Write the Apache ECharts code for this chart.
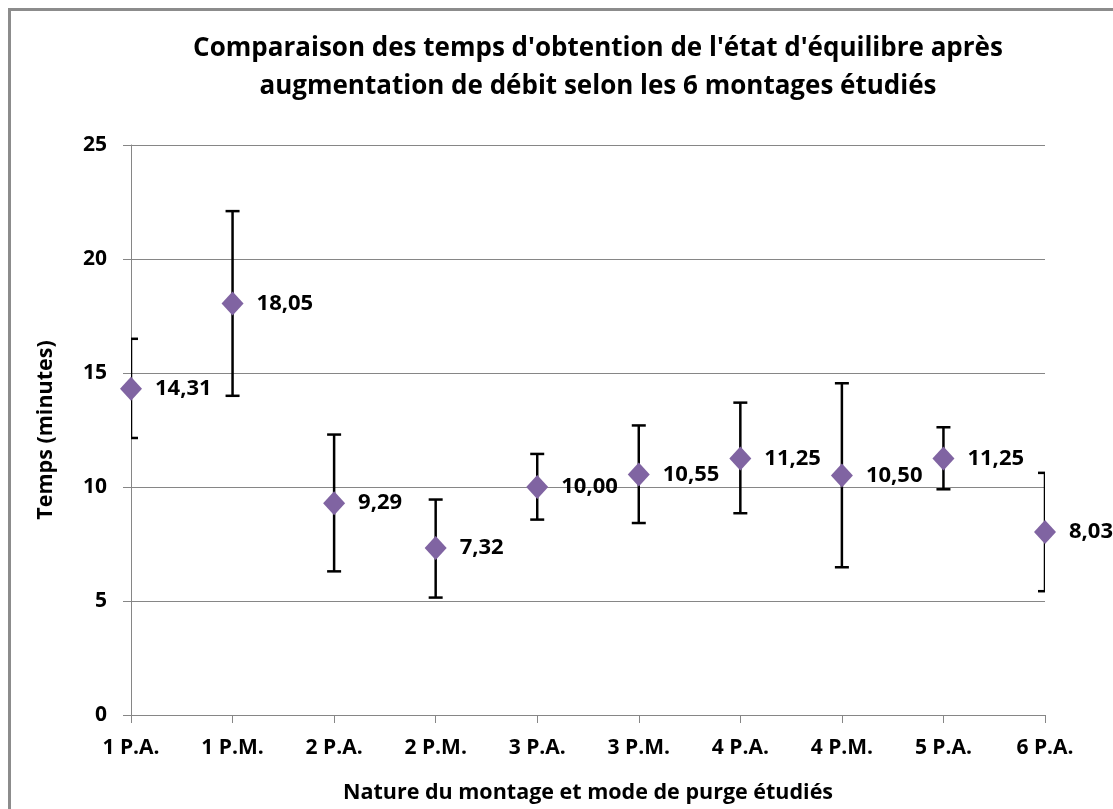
<!DOCTYPE html>
<html>
<head>
<meta charset="utf-8">
<script src="https://cdn.jsdelivr.net/npm/echarts@6/dist/echarts.min.js"></script>
<style>
  html, body { margin: 0; padding: 0; background: #fff; }
  #chart { width: 1113px; height: 809px; }
  .frame { position: absolute; left: 8px; top: 8px; width: 1200px; height: 900px; border-left: 3px solid #8c8c8c; border-top: 3px solid #8c8c8c; pointer-events: none; }
</style>
</head>
<body>
<div id="chart"></div>
<div class="frame"></div>
<script>
// montages étudiés
const categories = ['1 P.A.', '1 P.M.', '2 P.A.', '2 P.M.', '3 P.A.', '3 P.M.', '4 P.A.', '4 P.M.', '5 P.A.', '6 P.A.']
// temps moyen (minutes)
const means = [14.31, 18.05, 9.29, 7.32, 10.00, 10.55, 11.25, 10.50, 11.25, 8.03]
// bornes des barres d'erreur
const upper = [16.5, 22.1, 12.3, 9.45, 11.45, 12.7, 13.7, 14.55, 12.62, 10.62]
const lower = [12.15, 14.0, 6.3, 5.15, 8.57, 8.42, 8.85, 6.48, 9.9, 5.43]
const yTicks = [0, 5, 10, 15, 20, 25]

const FONT = '"Open Sans"'

const chart = echarts.init(document.getElementById('chart'))

const errorData = categories.map((c, i) => [i, lower[i], upper[i]])

chart.setOption({
  animation: false,
  title: {
    text: "Comparaison des temps d'obtention de l'état d'équilibre après\naugmentation de débit selon les 6 montages étudiés",
    left: 593,
    textAlign: 'center',
    top: 25,
    textStyle: {
      fontFamily: FONT,
      fontWeight: 'bold',
      fontSize: 26,
      lineHeight: 38,
      color: '#000',
    },
  },
  grid: {
    left: 131,
    right: 68,
    top: 145,
    bottom: 90,
  },
  xAxis: {
    type: 'category',
    data: categories,
    boundaryGap: false,
    name: 'Nature du montage et mode de purge étudiés',
    nameLocation: 'middle',
    nameGap: 67,
    nameTextStyle: { fontFamily: FONT, fontWeight: 'bold', fontSize: 21.5, color: '#000' },
    axisLine: { lineStyle: { color: '#868686', width: 1 } },
    axisTick: { alignWithLabel: true, length: 8, lineStyle: { color: '#868686' } },
    axisLabel: { fontFamily: FONT, fontWeight: 'bold', fontSize: 21, color: '#000', margin: 23 },
    splitLine: { show: false },
  },
  yAxis: {
    type: 'value',
    min: yTicks[0],
    max: yTicks[yTicks.length - 1],
    interval: 5,
    name: 'Temps (minutes)',
    nameLocation: 'middle',
    nameGap: 74,
    nameRotate: 90,
    nameTextStyle: { fontFamily: FONT, fontWeight: 'bold', fontSize: 21.5, color: '#000' },
    axisLine: { show: true, lineStyle: { color: '#868686', width: 1 } },
    axisTick: { show: true, length: 8, lineStyle: { color: '#868686' } },
    axisLabel: { fontFamily: FONT, fontWeight: 'bold', fontSize: 21, color: '#000', margin: 24 },
    splitLine: { lineStyle: { color: '#868686', width: 1 } },
  },
  series: [
    {
      type: 'custom',
      name: 'erreur',
      clip: true,
      z: 2,
      data: errorData,
      renderItem: function (params, api) {
        const x = api.value(0)
        const lo = api.coord([x, api.value(1)])
        const hi = api.coord([x, api.value(2)])
        const w = 7
        const style = { stroke: '#000', lineWidth: 2.5 }
        return {
          type: 'group',
          children: [
            { type: 'line', shape: { x1: lo[0], y1: lo[1], x2: hi[0], y2: hi[1] }, style },
            { type: 'line', shape: { x1: hi[0] - w, y1: hi[1], x2: hi[0] + w, y2: hi[1] }, style },
            { type: 'line', shape: { x1: lo[0] - w, y1: lo[1], x2: lo[0] + w, y2: lo[1] }, style },
          ],
        }
      },
    },
    {
      type: 'scatter',
      name: 'Temps',
      z: 3,
      symbol: 'diamond',
      symbolSize: [22, 24],
      itemStyle: { color: '#8064A2', opacity: 1 },
      data: means,
      label: {
        show: true,
        position: 'right',
        distance: 13,
        fontFamily: FONT,
        fontWeight: 'bold',
        fontSize: 22,
        color: '#000',
        formatter: (p) => p.value.toFixed(2).replace('.', ','),
      },
    },
  ],
})
</script>
</body>
</html>
